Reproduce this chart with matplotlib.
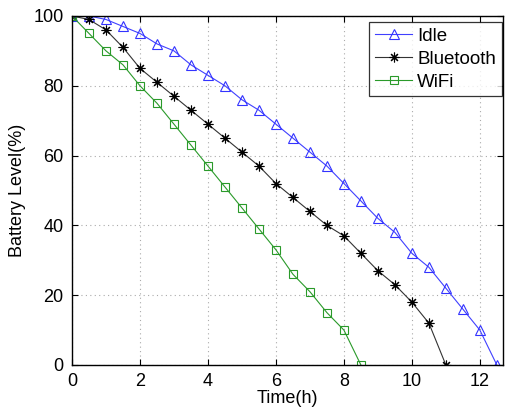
import matplotlib
matplotlib.use("Agg")
import matplotlib.pyplot as plt

plt.rcParams["font.family"] = ["Liberation Sans", "DejaVu Sans"]

# ---------- data ----------
t_idle = [0, 0.5, 1, 1.5, 2, 2.5, 3, 3.5, 4, 4.5, 5, 5.5, 6, 6.5, 7, 7.5, 8,
          8.5, 9, 9.5, 10, 10.5, 11, 11.5, 12, 12.5]
idle = [100, 100, 99, 97, 95, 92, 90, 86, 83, 80, 76, 73, 69, 65, 61, 57, 52,
        47, 42, 38, 32, 28, 22, 16, 10, 0]

t_bt = [0, 0.5, 1, 1.5, 2, 2.5, 3, 3.5, 4, 4.5, 5, 5.5, 6, 6.5, 7, 7.5, 8,
        8.5, 9, 9.5, 10, 10.5, 11]
bluetooth = [100, 99, 96, 91, 85, 81, 77, 73, 69, 65, 61, 57, 52, 48, 44, 40, 37,
             32, 27, 23, 18, 12, 0]

t_wifi = [0, 0.5, 1, 1.5, 2, 2.5, 3, 3.5, 4, 4.5, 5, 5.5, 6, 6.5, 7, 7.5, 8, 8.5]
wifi = [100, 95, 90, 86, 80, 75, 69, 63, 57, 51, 45, 39, 33, 26, 21, 15, 10, 0]

fig = plt.figure(figsize=(5.05, 4.07), dpi=100)
ax = fig.add_axes([0.1426, 0.1032, 0.8534, 0.8575])

ax.plot(t_idle, idle, color="#4040ff", lw=0.8, marker="^", ms=7.5,
        mfc="none", mec="#3333ff", mew=0.8, label="Idle")
ax.plot(t_bt, bluetooth, color="#333333", lw=0.8, marker=(8, 2, 0), ms=7,
        mfc="none", mec="black", mew=0.8, label="Bluetooth")
ax.plot(t_wifi, wifi, color="#2a9a2a", lw=0.8, marker="s", ms=5.5,
        mfc="none", mec="#2a9a2a", mew=0.8, label="WiFi")

ax.set_xlim(0, 12.68)
ax.set_ylim(0, 100)
ax.set_xticks([0, 2, 4, 6, 8, 10, 12])
ax.set_yticks([0, 20, 40, 60, 80, 100])
ax.grid(True, ls=(0, (1, 3)), color="#aaaaaa", lw=0.8)
ax.tick_params(direction="in", top=True, right=True, labelsize=13, length=4,
               pad=6)
for s in ax.spines.values():
    s.set_linewidth(1.0)

ax.set_xlabel("Time(h)", fontsize=13, labelpad=0)
ax.set_ylabel("Battery Level(%)", fontsize=13, labelpad=5)

leg = ax.legend(loc="upper right", bbox_to_anchor=(0.997, 0.982), fontsize=13.5,
                frameon=True, fancybox=False, edgecolor="black",
                borderaxespad=0, handlelength=2.0, handletextpad=0.25,
                labelspacing=0.3, borderpad=0.3)
leg.get_frame().set_linewidth(0.9)

fig.savefig("out.png", dpi=100)
